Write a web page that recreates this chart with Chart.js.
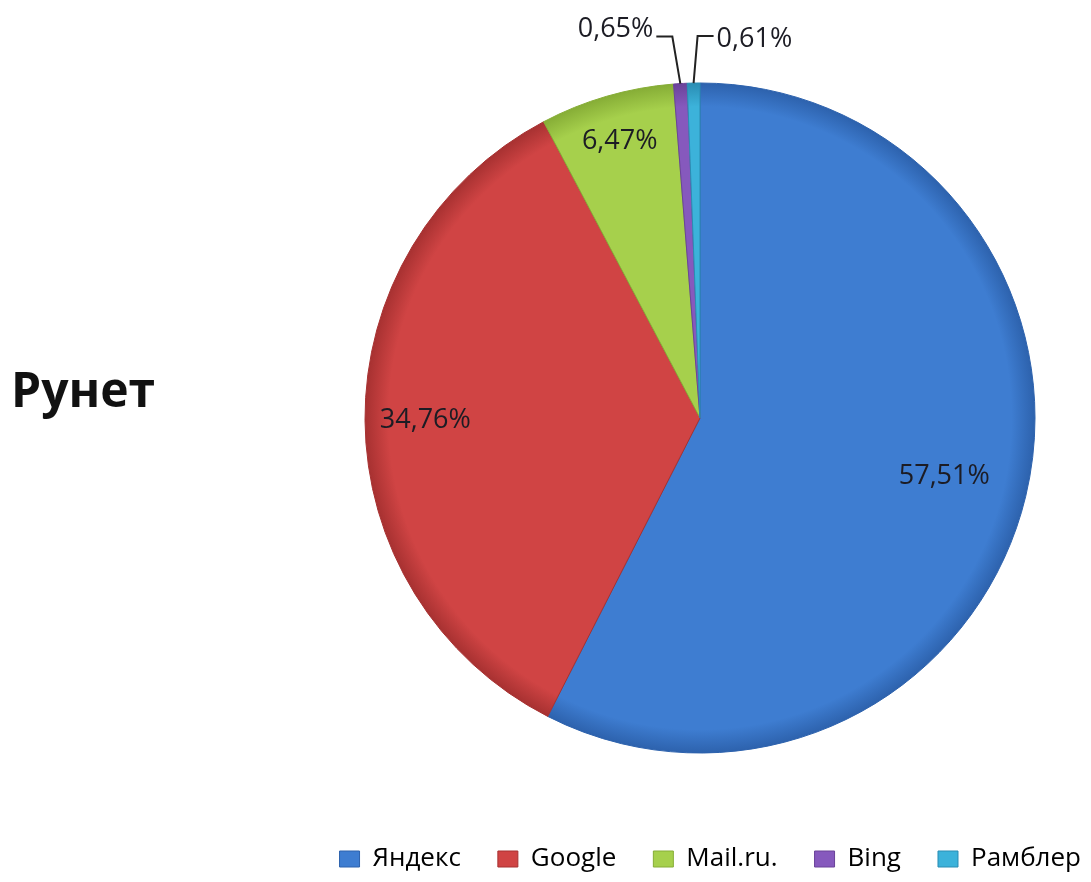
<!DOCTYPE html>
<html>
<head>
<meta charset="utf-8">
<script src="https://cdn.jsdelivr.net/npm/chart.js@4"></script>
<style>
  html, body { margin: 0; padding: 0; background: #fff; }
  #wrap { width: 1091px; height: 882px; }
</style>
</head>
<body>
<div id="wrap"><canvas id="myChart" width="1091" height="882"></canvas></div>
<script>
const engines = ['Яндекс', 'Google', 'Mail.ru.', 'Bing', 'Рамблер'];
const shares = [57.51, 34.76, 6.47, 0.65, 0.61];
const shareLabels = ['57,51%', '34,76%', '6,47%', '0,65%', '0,61%'];

const baseColors = ['#3e7dd1', '#d04444', '#a6d04c', '#8659bd', '#3cb2da'];
const rimColors = ['#2d62ad', '#a73131', '#86ad36', '#6a4399', '#2a8db3'];

// radial shading so the slices look a bit like the excel bevel
function shade(ctx) {
  const chart = ctx.chart;
  const area = chart.chartArea;
  if (!area) return baseColors[ctx.dataIndex];
  const cx = (area.left + area.right) / 2;
  const cy = (area.top + area.bottom) / 2;
  const g = chart.ctx.createRadialGradient(cx, cy, 0, cx, cy, 335);
  g.addColorStop(0, baseColors[ctx.dataIndex]);
  g.addColorStop(0.93, baseColors[ctx.dataIndex]);
  g.addColorStop(1, rimColors[ctx.dataIndex]);
  return g;
}

const titlePlugin = {
  id: 'sideTitle',
  afterDraw(chart) {
    const c = chart.ctx;
    c.save();
    c.font = 'bold 48px "Open Sans", sans-serif';
    c.fillStyle = '#111';
    c.textAlign = 'left';
    c.textBaseline = 'middle';
    c.fillText('Рунет', 11, 393);
    c.restore();
  },
};

// percent labels, inside for the big slices, with leader lines for the thin ones
const labelPlugin = {
  id: 'pctLabels',
  afterDatasetsDraw(chart) {
    const c = chart.ctx;
    const meta = chart.getDatasetMeta(0);
    const inside = [0.75, 0.82, 0.86];
    c.save();
    c.font = '27px "Open Sans", sans-serif';
    c.fillStyle = '#1c1c24';
    c.textBaseline = 'middle';
    meta.data.forEach((arc, i) => {
      const p = arc.getProps(['x', 'y', 'startAngle', 'endAngle', 'outerRadius'], true);
      const mid = (p.startAngle + p.endAngle) / 2;
      if (i < inside.length) {
        const r = p.outerRadius * inside[i];
        c.textAlign = 'center';
        c.fillText(shareLabels[i], p.x + Math.cos(mid) * r, p.y + Math.sin(mid) * r);
        return;
      }
      const ex = p.x + Math.cos(mid) * p.outerRadius;
      const ey = p.y + Math.sin(mid) * p.outerRadius;
      const dir = i === 3 ? -1 : 1;
      const kx = ex + dir * (i === 3 ? 8 : 4);
      const ky = ey - 47;
      const hx = kx + dir * 16;
      c.strokeStyle = '#222';
      c.lineWidth = 2;
      c.beginPath();
      c.moveTo(ex, ey);
      c.lineTo(kx, ky);
      c.lineTo(hx, ky);
      c.stroke();
      c.textAlign = dir < 0 ? 'right' : 'left';
      c.fillText(shareLabels[i], hx + dir * 3, ky + (dir < 0 ? -7 : 3));
    });
    c.restore();
  },
};

const ctx = document.getElementById('myChart').getContext('2d');
window.myChart = new Chart(ctx, {
  type: 'pie',
  data: {
    labels: engines,
    datasets: [
      {
        data: shares,
        backgroundColor: shade,
        borderColor: rimColors,
        borderWidth: 1,
        radius: 335,
      },
    ],
  },
  options: {
    responsive: false,
    animation: false,
    layout: { padding: { top: -6, left: 309, right: 0, bottom: 0 } },
    plugins: {
      tooltip: { enabled: false },
      legend: {
        position: 'bottom',
        align: 'end',
        labels: {
          boxWidth: 20,
          boxHeight: 16,
          padding: 10,
          color: '#222',
          font: { size: 26, family: '"Open Sans", sans-serif' },
          generateLabels(chart) {
            // trailing spaces give the wide gaps between items
            return engines.map((name, i) => ({
              text: i < engines.length - 1 ? name + '    ' : name,
              fillStyle: baseColors[i],
              strokeStyle: rimColors[i],
              lineWidth: 1,
              index: i,
            }));
          },
        },
      },
    },
  },
  plugins: [titlePlugin, labelPlugin],
});
</script>
</body>
</html>
